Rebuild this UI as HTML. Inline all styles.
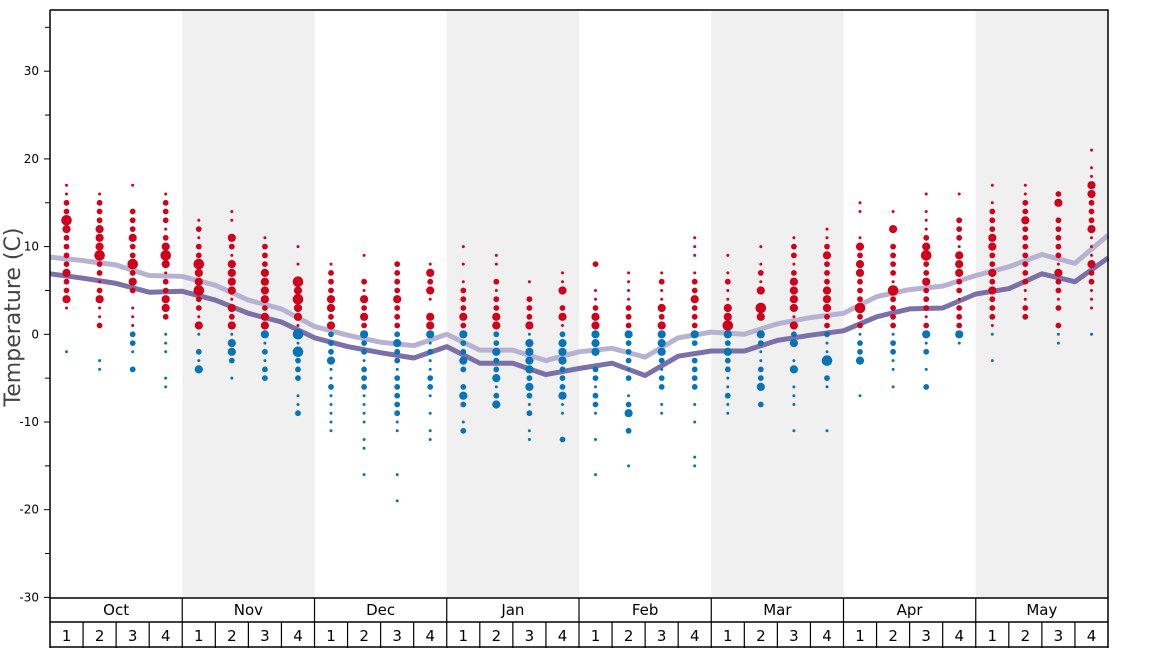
<!DOCTYPE html>
<html><head><meta charset="utf-8"><style>
html,body{margin:0;padding:0;background:#fff;}
svg{display:block;font-family:"DejaVu Sans","Liberation Sans",sans-serif;}
</style></head><body>
<svg id="chart" width="1168" height="648" viewBox="0 0 1168 648"></svg>
<script>
const months = ["Oct","Nov","Dec","Jan","Feb","Mar","Apr","May"];
const weekLabels = ["1","2","3","4"];
const yTicks = [-30,-20,-10,0,10,20,30];
const minorTicks = [-25,-15,-5,5,15,25,35];
// line values at week boundaries (33 points)
const lowLine = [6.9,6.4,5.8,4.8,4.9,3.9,2.4,1.4,-0.4,-1.4,-2.1,-2.7,-1.4,-3.3,-3.3,-4.6,-3.9,-3.3,-4.7,-2.5,-1.9,-1.9,-0.7,-0.1,0.4,2.0,2.9,3.0,4.6,5.2,6.9,6.0,8.7];
const highLine = [8.8,8.4,7.9,6.7,6.6,5.6,3.9,2.9,0.9,-0.1,-0.9,-1.3,0,-1.8,-1.8,-3.0,-2.0,-1.6,-2.6,-0.4,0.25,0,1.2,1.9,2.4,4.3,5.1,5.5,6.7,7.7,9.1,8.1,11.3];
// observed temperatures per week: [temp, frequency size 1-4]
const weekDots = [
[[17,1],[16,1],[15,2],[14,2],[13,4],[12,3],[11,2],[10,2],[9,2],[8,2],[7,3],[6,2],[5,2],[4,3],[3,1],[-2,1]],
[[16,1],[15,2],[14,2],[13,2],[12,3],[11,3],[10,3],[9,4],[8,2],[7,2],[6,1],[5,2],[4,3],[3,1],[2,1],[1,2],[-3,1],[-4,1]],
[[17,1],[14,2],[13,2],[12,2],[11,3],[10,2],[9,2],[8,4],[7,2],[6,3],[5,2],[3,1],[2,1],[1,1],[0,2],[-1,2],[-2,1],[-4,2]],
[[16,1],[15,2],[14,2],[13,2],[12,1],[11,2],[10,3],[9,4],[8,3],[7,1],[6,2],[5,2],[4,3],[3,3],[2,2],[0,1],[-1,1],[-2,1],[-5,1],[-6,1]],
[[13,1],[12,2],[11,1],[10,2],[9,2],[8,4],[7,3],[6,3],[5,4],[4,2],[3,2],[2,1],[1,3],[0,1],[-2,2],[-3,1],[-4,3]],
[[14,1],[13,1],[11,3],[10,2],[9,1],[8,3],[7,3],[6,3],[5,3],[4,1],[3,3],[2,2],[1,3],[0,1],[-1,3],[-2,3],[-3,2],[-5,1]],
[[11,1],[10,2],[9,2],[8,2],[7,3],[6,3],[5,3],[4,3],[3,2],[2,3],[1,3],[0,3],[-1,1],[-2,2],[-3,1],[-4,2],[-5,2]],
[[10,1],[8,1],[6,4],[5,3],[4,4],[3,3],[2,3],[1,1],[0,4],[-1,1],[-2,4],[-3,2],[-4,2],[-5,2],[-7,1],[-8,1],[-9,2]],
[[8,1],[7,2],[6,2],[5,2],[4,3],[3,3],[2,2],[1,3],[0,2],[-1,2],[-2,2],[-3,3],[-4,1],[-5,1],[-6,2],[-7,1],[-8,1],[-9,1],[-10,1],[-11,1]],
[[9,1],[6,2],[5,1],[4,3],[3,2],[2,3],[1,2],[0,3],[-1,2],[-2,2],[-3,1],[-4,2],[-5,2],[-6,2],[-7,1],[-8,1],[-9,1],[-10,1],[-12,1],[-13,1],[-16,1]],
[[8,2],[7,2],[6,2],[5,2],[4,3],[3,2],[2,2],[1,2],[0,2],[-1,3],[-2,2],[-3,2],[-4,1],[-5,2],[-6,2],[-7,2],[-8,2],[-9,2],[-10,1],[-11,1],[-16,1],[-19,1]],
[[8,1],[7,3],[6,2],[5,3],[4,1],[2,3],[1,3],[0,3],[-1,1],[-2,2],[-3,1],[-4,1],[-5,2],[-6,2],[-7,1],[-9,1],[-11,1],[-12,1]],
[[10,1],[8,1],[6,1],[5,2],[4,2],[3,2],[2,3],[1,2],[0,3],[-1,2],[-2,2],[-3,3],[-4,2],[-6,2],[-7,3],[-8,2],[-10,1],[-11,2]],
[[9,1],[8,1],[6,2],[5,1],[4,2],[3,2],[2,3],[1,3],[0,2],[-1,2],[-2,3],[-3,2],[-4,2],[-5,3],[-6,1],[-7,2],[-8,3]],
[[6,1],[4,2],[3,2],[2,2],[1,3],[0,1],[-1,3],[-2,3],[-3,3],[-4,3],[-5,2],[-6,3],[-7,2],[-8,1],[-9,2],[-11,1],[-12,1]],
[[7,1],[6,1],[5,3],[3,2],[2,3],[1,1],[0,2],[-1,3],[-2,3],[-3,3],[-4,2],[-5,2],[-6,2],[-7,3],[-8,1],[-9,1],[-12,2]],
[[8,2],[5,1],[4,1],[3,2],[2,3],[1,3],[0,3],[-1,3],[-2,3],[-4,2],[-5,2],[-6,1],[-7,2],[-8,2],[-9,1],[-12,1],[-16,1]],
[[7,1],[6,1],[5,1],[4,1],[3,2],[2,2],[1,2],[0,3],[-1,2],[-2,2],[-3,2],[-4,1],[-5,2],[-7,1],[-8,2],[-9,3],[-11,2],[-15,1]],
[[7,1],[6,2],[5,1],[4,1],[3,3],[2,2],[1,3],[0,3],[-1,3],[-2,3],[-3,2],[-4,1],[-5,2],[-6,2],[-8,1],[-9,1]],
[[11,1],[10,1],[9,1],[7,1],[6,2],[5,2],[4,3],[3,2],[2,2],[1,2],[0,3],[-1,2],[-3,2],[-4,2],[-5,2],[-6,2],[-8,1],[-10,1],[-14,1],[-15,1]],
[[9,1],[7,1],[6,2],[5,1],[4,1],[3,3],[2,3],[1,4],[0,3],[-1,2],[-2,3],[-3,2],[-4,2],[-5,1],[-6,1],[-7,2],[-8,1],[-9,1]],
[[10,1],[8,1],[7,2],[6,1],[5,3],[3,4],[2,3],[0,3],[-1,2],[-2,1],[-3,1],[-4,2],[-5,2],[-6,3],[-8,2]],
[[11,1],[10,2],[9,2],[8,1],[7,2],[6,3],[5,3],[4,3],[3,3],[2,1],[1,3],[0,2],[-1,3],[-3,1],[-4,3],[-6,1],[-7,1],[-8,1],[-11,1]],
[[12,1],[11,1],[10,2],[9,3],[8,2],[7,2],[6,2],[5,3],[4,3],[3,3],[2,2],[1,2],[0,2],[-1,1],[-2,1],[-3,4],[-5,2],[-6,1],[-11,1]],
[[15,1],[14,1],[11,1],[10,3],[9,2],[8,3],[7,3],[6,2],[5,2],[4,2],[3,4],[2,2],[1,2],[0,1],[-1,2],[-2,2],[-3,3],[-7,1]],
[[14,1],[12,3],[10,2],[9,2],[8,2],[7,2],[6,1],[5,4],[4,2],[3,2],[2,2],[1,2],[0,1],[-1,2],[-2,2],[-3,1],[-4,1],[-6,1]],
[[16,1],[14,1],[13,1],[12,1],[11,2],[10,3],[9,4],[8,2],[7,2],[6,3],[5,2],[4,2],[3,2],[2,1],[1,2],[0,3],[-1,1],[-2,2],[-4,1],[-6,2]],
[[16,1],[13,2],[12,2],[11,2],[10,1],[9,3],[8,3],[7,3],[6,2],[5,2],[4,1],[3,2],[2,2],[1,2],[0,3],[-1,1]],
[[17,1],[15,1],[14,2],[13,2],[12,2],[11,3],[10,3],[9,2],[8,2],[7,3],[6,2],[5,3],[4,2],[3,2],[2,2],[1,1],[0,1],[-3,1]],
[[17,1],[16,1],[15,2],[14,2],[13,3],[12,2],[11,2],[10,2],[9,2],[8,2],[7,2],[6,2],[5,1],[4,1],[3,2],[2,2]],
[[16,2],[15,3],[13,2],[12,2],[11,2],[10,2],[9,2],[8,1],[7,3],[6,2],[5,2],[4,1],[3,2],[1,2],[0,1],[-1,1]],
[[21,1],[19,1],[18,1],[17,3],[16,3],[15,2],[14,2],[13,2],[12,3],[11,1],[10,1],[9,1],[8,3],[7,2],[6,2],[5,1],[4,1],[3,1],[0,1]]
];

const NS="http://www.w3.org/2000/svg";
const svg=document.getElementById('chart');
const L=50,R=1108,T=10,B=598;
const colW=(R-L)/32;
function yScale(t){return 334.3-t*8.77;}
function xBound(i){return L+i*colW;}
function xWeek(i){return L+(i+0.5)*colW;}
function mk(tag,attrs,parent){const e=document.createElementNS(NS,tag);for(const k in attrs)e.setAttribute(k,attrs[k]);(parent||svg).appendChild(e);return e;}

months.forEach((m,i)=>{
  if(i%2===1){
    const r=mk('rect',{x:xBound(i*4),y:T,width:colW*4,height:B-T,fill:'#f0f0f0'});
    
    
  }
});
function linePath(vals){return vals.map((v,i)=>(i?'L':'M')+xBound(i).toFixed(1)+' '+yScale(v).toFixed(1)).join(' ');}
const hl=mk('path',{d:linePath(highLine),fill:'none',stroke:'#b8b2d2',"stroke-width":5,"stroke-linejoin":'round'});


const ll=mk('path',{d:linePath(lowLine),fill:'none',stroke:'#7b70a8',"stroke-width":5,"stroke-linejoin":'round'});


const radii=[0,1.5,2.9,4.1,5.3];
weekDots.forEach((wk,i)=>{
  const g=mk('g',{});
  
  
  wk.forEach(([t,s])=>{
    const c=mk('circle',{cx:xWeek(i).toFixed(1),cy:yScale(t).toFixed(1),r:radii[s],fill:t>0?'#d0021b':'#0774b8'},g);
    
    
  });
});
const fr=mk('path',{d:`M${L} ${T} H${R} V648 M${L} ${T} V648 M${L} ${B} H${R} M${L} 622 H${R} M${L} 647 H${R}`,fill:'none',stroke:'#000',"stroke-width":1.5});


yTicks.forEach(t=>{
  const y=yScale(t);
  const tk=mk('line',{x1:44,x2:L,y1:y,y2:y,stroke:'#000',"stroke-width":1});
  
  
  const tx=mk('text',{x:39,y:y+4,"text-anchor":'end',"font-size":12,fill:'#000'});
  tx.textContent=t;
  
  
});
minorTicks.forEach(t=>{
  const y=yScale(t);
  const tk=mk('line',{x1:45,x2:L,y1:y,y2:y,stroke:'#000',"stroke-width":1});
  
  
});
const yt=mk('text',{x:0,y:0,transform:'translate(20,317) rotate(-90)',"text-anchor":'middle',"font-size":22,fill:'#444'});
yt.textContent='Temperature (C)';


months.forEach((m,i)=>{
  const x0=xBound(i*4);
  if(i>0){const vl=mk('line',{x1:x0,x2:x0,y1:B,y2:648,stroke:'#000',"stroke-width":1.2});
    
    }
  const mt=mk('text',{x:x0+colW*2,y:615,"text-anchor":'middle',"font-size":15,fill:'#000'});
  mt.textContent=m;
  
  
  weekLabels.forEach((w,j)=>{
    const k=i*4+j;
    if(j>0){const wl=mk('line',{x1:xBound(k),x2:xBound(k),y1:622,y2:648,stroke:'#000',"stroke-width":1.2});
      
      }
    const wt=mk('text',{x:xWeek(k),y:641,"text-anchor":'middle',"font-size":15,fill:'#000'});
    wt.textContent=w;
    
    
  });
});
</script>
</body></html>
